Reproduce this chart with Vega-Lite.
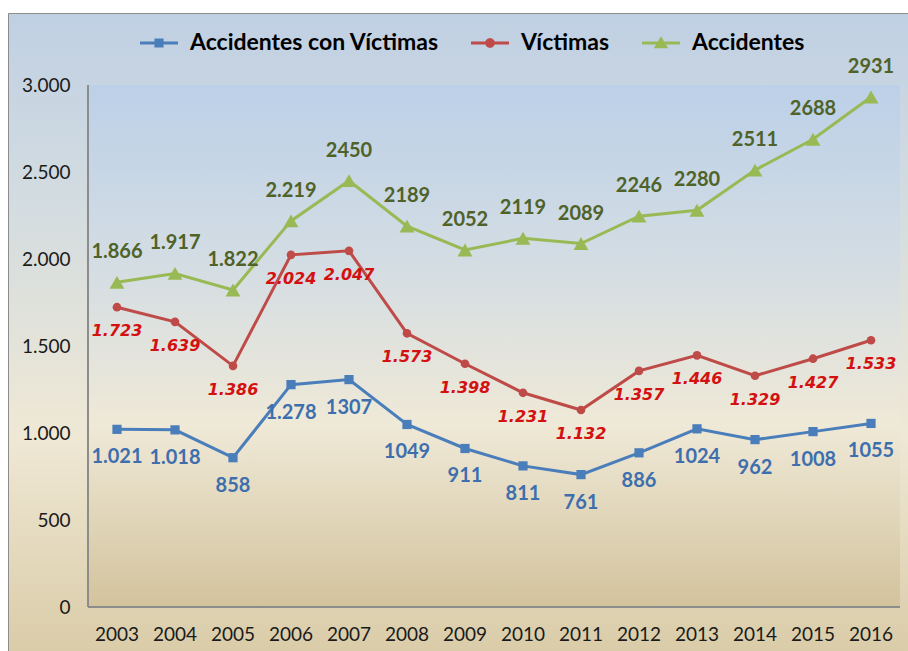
{
  "$schema": "https://vega.github.io/schema/vega-lite/v6.json",
  "width": 901,
  "height": 639,
  "autosize": {"type": "none"},
  "padding": {"left": 8, "top": 13, "right": 0, "bottom": 0},
  "background": "white",
  "config": {
    "locale": {"number": {"decimal": ",", "thousands": ".", "grouping": [3], "currency": ["", " €"]}},
    "view": {
      "stroke": "#8c8c8c",
      "strokeWidth": 1,
      "fill": {"gradient": "linear", "x1": 0, "y1": 0, "x2": 0, "y2": 1,
        "stops": [
          {"offset": 0, "color": "#c0d0e3"},
          {"offset": 0.3, "color": "#d3dce0"},
          {"offset": 0.66, "color": "#efe8d5"},
          {"offset": 1, "color": "#dacca8"}
        ]}
    },
    "axis": {"labelFont": "Lato", "labelFontSize": 19, "labelColor": "#1a1a1a", "domain": false, "ticks": false, "grid": false, "title": null}
  },
  "data": {
    "values": [
      {"year": "2003", "series": "Accidentes con Víctimas", "value": 1021, "label": "1.021"},
      {"year": "2004", "series": "Accidentes con Víctimas", "value": 1018, "label": "1.018"},
      {"year": "2005", "series": "Accidentes con Víctimas", "value": 858, "label": "858"},
      {"year": "2006", "series": "Accidentes con Víctimas", "value": 1278, "label": "1.278"},
      {"year": "2007", "series": "Accidentes con Víctimas", "value": 1307, "label": "1307"},
      {"year": "2008", "series": "Accidentes con Víctimas", "value": 1049, "label": "1049"},
      {"year": "2009", "series": "Accidentes con Víctimas", "value": 911, "label": "911"},
      {"year": "2010", "series": "Accidentes con Víctimas", "value": 811, "label": "811"},
      {"year": "2011", "series": "Accidentes con Víctimas", "value": 761, "label": "761"},
      {"year": "2012", "series": "Accidentes con Víctimas", "value": 886, "label": "886"},
      {"year": "2013", "series": "Accidentes con Víctimas", "value": 1024, "label": "1024"},
      {"year": "2014", "series": "Accidentes con Víctimas", "value": 962, "label": "962"},
      {"year": "2015", "series": "Accidentes con Víctimas", "value": 1008, "label": "1008"},
      {"year": "2016", "series": "Accidentes con Víctimas", "value": 1055, "label": "1055"},
      {"year": "2003", "series": "Víctimas", "value": 1723, "label": "1.723"},
      {"year": "2004", "series": "Víctimas", "value": 1639, "label": "1.639"},
      {"year": "2005", "series": "Víctimas", "value": 1386, "label": "1.386"},
      {"year": "2006", "series": "Víctimas", "value": 2024, "label": "2.024"},
      {"year": "2007", "series": "Víctimas", "value": 2047, "label": "2.047"},
      {"year": "2008", "series": "Víctimas", "value": 1573, "label": "1.573"},
      {"year": "2009", "series": "Víctimas", "value": 1398, "label": "1.398"},
      {"year": "2010", "series": "Víctimas", "value": 1231, "label": "1.231"},
      {"year": "2011", "series": "Víctimas", "value": 1132, "label": "1.132"},
      {"year": "2012", "series": "Víctimas", "value": 1357, "label": "1.357"},
      {"year": "2013", "series": "Víctimas", "value": 1446, "label": "1.446"},
      {"year": "2014", "series": "Víctimas", "value": 1329, "label": "1.329"},
      {"year": "2015", "series": "Víctimas", "value": 1427, "label": "1.427"},
      {"year": "2016", "series": "Víctimas", "value": 1533, "label": "1.533"},
      {"year": "2003", "series": "Accidentes", "value": 1866, "label": "1.866"},
      {"year": "2004", "series": "Accidentes", "value": 1917, "label": "1.917"},
      {"year": "2005", "series": "Accidentes", "value": 1822, "label": "1.822"},
      {"year": "2006", "series": "Accidentes", "value": 2219, "label": "2.219"},
      {"year": "2007", "series": "Accidentes", "value": 2450, "label": "2450"},
      {"year": "2008", "series": "Accidentes", "value": 2189, "label": "2189"},
      {"year": "2009", "series": "Accidentes", "value": 2052, "label": "2052"},
      {"year": "2010", "series": "Accidentes", "value": 2119, "label": "2119"},
      {"year": "2011", "series": "Accidentes", "value": 2089, "label": "2089"},
      {"year": "2012", "series": "Accidentes", "value": 2246, "label": "2246"},
      {"year": "2013", "series": "Accidentes", "value": 2280, "label": "2280"},
      {"year": "2014", "series": "Accidentes", "value": 2511, "label": "2511"},
      {"year": "2015", "series": "Accidentes", "value": 2688, "label": "2688"},
      {"year": "2016", "series": "Accidentes", "value": 2931, "label": "2931"}
    ]
  },
  "encoding": {
    "x": {
      "field": "year", "type": "nominal", "sort": null,
      "scale": {"paddingInner": 0, "paddingOuter": 0.767, "align": 0.899},
      "axis": {"orient": "bottom", "offset": -45, "labelPadding": 18, "labelAngle": 0}
    }
  },
  "layer": [
    {
      "transform": [{"filter": "datum.series === 'Accidentes'"}],
      "mark": {"type": "bar", "width": {"band": 1}, "strokeWidth": 0,
        "fill": {"gradient": "linear", "x1": 0, "y1": 0, "x2": 0, "y2": 1,
          "stops": [
            {"offset": 0, "color": "#bcd0e8"},
            {"offset": 0.35, "color": "#d4dde3"},
            {"offset": 0.65, "color": "#efe9d7"},
            {"offset": 1, "color": "#d3c39d"}
          ]}},
      "encoding": {
        "y": {"datum": 0, "type": "quantitative",
          "scale": {"domain": [-258.6, 3413.8], "nice": false, "zero": false},
          "axis": {"orient": "left", "offset": -80, "labelPadding": 18, "values": [0, 500, 1000, 1500, 2000, 2500, 3000], "format": ",d"}},
        "y2": {"datum": 3000}
      }
    },
    {
      "transform": [{"filter": "datum.series === 'Accidentes' && datum.year === '2003'"}],
      "mark": {"type": "rule", "color": "#8c8c8c", "strokeWidth": 2},
      "encoding": {
        "x": {"field": "year", "type": "nominal", "bandPosition": 0},
        "y": {"datum": 0, "type": "quantitative"},
        "y2": {"datum": 3000}
      }
    },
    {
      "transform": [{"filter": "datum.series === 'Accidentes'"}],
      "mark": {"type": "tick", "orient": "horizontal", "size": 58, "thickness": 2, "color": "#8c8c8c", "opacity": 1},
      "encoding": {
        "y": {"datum": 0, "type": "quantitative"}
      }
    },
    {
      "transform": [{"filter": "datum.series === 'Accidentes con Víctimas'"}],
      "mark": {"type": "line", "strokeWidth": 3, "color": "#4a7ebb", "point": {"shape": "square", "size": 85, "filled": true, "opacity": 1, "color": "#4a7ebb"}},
      "encoding": {"y": {"field": "value", "type": "quantitative"}}
    },
    {
      "transform": [{"filter": "datum.series === 'Víctimas'"}],
      "mark": {"type": "line", "strokeWidth": 3, "color": "#be4b48", "point": {"shape": "circle", "size": 75, "filled": true, "opacity": 1, "color": "#be4b48"}},
      "encoding": {"y": {"field": "value", "type": "quantitative"}}
    },
    {
      "transform": [{"filter": "datum.series === 'Accidentes'"}],
      "mark": {"type": "line", "strokeWidth": 3, "color": "#98b954", "point": {"shape": "triangle-up", "size": 220, "filled": true, "opacity": 1, "color": "#98b954"}},
      "encoding": {"y": {"field": "value", "type": "quantitative"}}
    },
    {
      "mark": {"type": "point", "filled": true, "opacity": 1, "size": 0},
      "encoding": {
        "y": {"field": "value", "type": "quantitative"},
        "color": {"field": "series", "type": "nominal", "title": null,
          "scale": {"domain": ["Accidentes con Víctimas", "Víctimas", "Accidentes"], "range": ["#4a7ebb", "#be4b48", "#98b954"]},
          "legend": {
            "orient": "none", "direction": "horizontal", "legendX": 132, "legendY": 11,
            "labelFont": "Lato", "labelFontSize": 23, "labelFontWeight": "bold", "labelColor": "#000000",
            "labelLimit": 400, "symbolSize": 1444, "symbolStrokeWidth": 0, "symbolOpacity": 1, "labelOffset": 12, "columnPadding": 32
          }},
        "shape": {"field": "series", "type": "nominal", "title": null,
          "scale": {"domain": ["Accidentes con Víctimas", "Víctimas", "Accidentes"],
            "range": [
              "M-1,-0.08H1V0.08H-1Z M-0.24,-0.24H0.24V0.24H-0.24Z",
              "M-1,-0.08H1V0.08H-1Z M0,-0.26L0.13,-0.225L0.225,-0.13L0.26,0L0.225,0.13L0.13,0.225L0,0.26L-0.13,0.225L-0.225,0.13L-0.26,0L-0.225,-0.13L-0.13,-0.225Z",
              "M-1,-0.08H1V0.08H-1Z M0,-0.36L0.38,0.28H-0.38Z"
            ]}}
      }
    },
    {
      "transform": [{"filter": "datum.series === 'Accidentes'"}],
      "mark": {"type": "text", "font": "Lato", "fontSize": 20, "fontWeight": "bold", "color": "#4f6228", "dy": -30, "baseline": "middle"},
      "encoding": {"y": {"field": "value", "type": "quantitative"}, "text": {"field": "label"}}
    },
    {
      "transform": [{"filter": "datum.series === 'Víctimas'"}],
      "mark": {"type": "text", "font": "DejaVu Sans", "fontSize": 16, "fontWeight": "bold", "fontStyle": "italic", "color": "#d41111", "dy": 24, "baseline": "middle"},
      "encoding": {"y": {"field": "value", "type": "quantitative"}, "text": {"field": "label"}}
    },
    {
      "transform": [{"filter": "datum.series === 'Accidentes con Víctimas'"}],
      "mark": {"type": "text", "font": "Lato", "fontSize": 20, "fontWeight": "bold", "color": "#3d6fae", "dy": 28, "baseline": "middle"},
      "encoding": {"y": {"field": "value", "type": "quantitative"}, "text": {"field": "label"}}
    }
  ]
}
